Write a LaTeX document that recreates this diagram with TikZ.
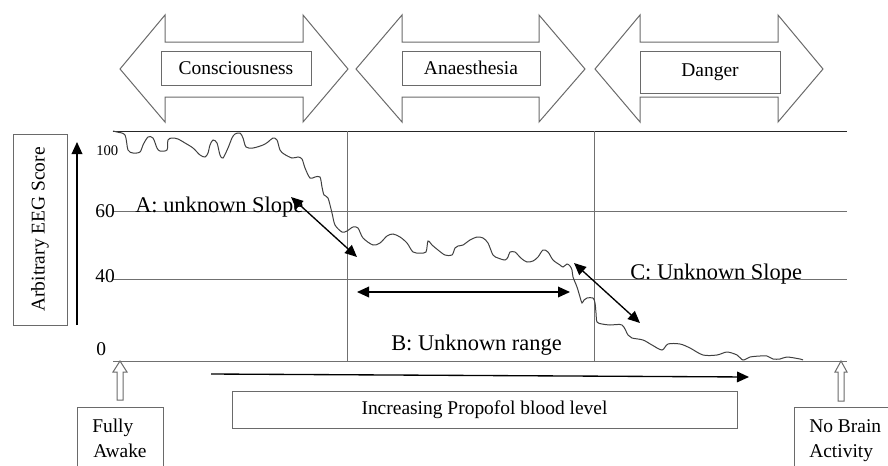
\documentclass[tikz,border=0pt]{standalone}
\usepackage{fontspec}
\setmainfont{Liberation Serif}
\usetikzlibrary{arrows.meta}
\definecolor{gridc}{HTML}{707070}
\definecolor{boxc}{HTML}{6A6A6A}
\definecolor{curvec}{HTML}{404040}
\begin{document}
\begin{tikzpicture}[x=0.75pt,y=-0.75pt,
  basefont/.style={font=\fontsize{14.6pt}{18.75pt}\selectfont},
  bigfont/.style={font=\fontsize{16.8pt}{20pt}\selectfont},
  gridline/.style={draw=gridc, line width=0.75pt},
  topline/.style={draw=black!85, line width=0.75pt},
  blockarrow/.style={draw=boxc, line width=0.75pt, fill=white, line join=miter},
  tbox/.style={draw=boxc, line width=0.75pt, inner sep=0pt, basefont},
  curve/.style={draw=curvec, line width=0.75pt},
  tip/.style={Triangle[length=9pt,width=8pt]},
  dbl/.style={{Triangle[length=9pt,width=8pt]}-{Triangle[length=9pt,width=8pt]}, line width=1pt, black},
  sgl/.style={-{Triangle[length=9pt,width=8pt]}, line width=1pt, black},
  lbl/.style={inner sep=0pt, anchor=base west, basefont},
  biglbl/.style={inner sep=0pt, anchor=base west, bigfont}]
\useasboundingbox (0,0) rectangle (888,465);
\clip (0,0) rectangle (888,465);
% top block arrows
\draw[blockarrow] (120,69) -- (165,15) -- (165,42) -- (303,42) -- (303,15) -- (348,69) -- (303,122) -- (303,97) -- (165,97) -- (165,122) -- cycle;
\draw[blockarrow] (356,69) -- (402,15) -- (402,42) -- (539,42) -- (539,15) -- (585,69) -- (539,122) -- (539,97) -- (402,97) -- (402,122) -- cycle;
\draw[blockarrow] (595,69) -- (640,15) -- (640,42) -- (778,42) -- (778,15) -- (823,69) -- (778,122) -- (778,97) -- (640,97) -- (640,122) -- cycle;
\node[tbox, minimum width=112.5pt, minimum height=25.5pt] (cons) at (236,68) {Consciousness};
\node[tbox, minimum width=103.5pt, minimum height=25.5pt] (anae) at (471,68) {Anaesthesia};
\node[tbox, minimum width=105pt, minimum height=31.5pt] (dang) at (710,72) {Danger};
% grid
\coordinate (gL100) at (113,131); \coordinate (gR100) at (847,131);
\coordinate (gL60) at (113,211); \coordinate (gR60) at (847,211);
\coordinate (gL40) at (113,279); \coordinate (gR40) at (847,279);
\coordinate (gL0) at (113,361); \coordinate (gR0) at (847,361);
\coordinate (v1t) at (347,131); \coordinate (v1b) at (347,361);
\coordinate (v2t) at (594,131); \coordinate (v2b) at (594,361);
\draw[topline] (gL100) -- (gR100);
\draw[gridline] (gL60) -- (gR60);
\draw[gridline] (gL40) -- (gR40);
\draw[gridline] (gL0) -- (gR0);
\draw[gridline] (v1t) -- (v1b);
\draw[gridline] (v2t) -- (v2b);
% tick labels
\node[lbl, font=\fontsize{11pt}{13pt}\selectfont] (t100) at (96,155) {100};
\node[lbl] (t60) at (95,217) {60};
\node[lbl] (t40) at (95,282) {40};
\node[lbl] (t0) at (96,355) {0};
% y axis
\node[tbox, rotate=90, minimum width=143.25pt, minimum height=40.5pt] (ylab) at (40,229.5) {Arbitrary EEG Score};
\coordinate (yb) at (77,325); \coordinate (yt) at (77,142);
\draw[sgl] (yb) -- (yt);
% curve
\draw[curve] plot[smooth, tension=0.5] coordinates {(113,131) (117,132) (125,135) (128,150) (133,153) (140,152) (143,145) (148,137) (153,138) (157,148) (160,151) (167,150) (168,140) (172,138) (178,139) (185,143) (193,148) (200,155) (205,157) (208,153) (210,145) (213,140) (217,143) (220,155) (223,158) (228,148) (232,138) (235,134) (240,133) (243,138) (246,147) (253,148) (263,145) (268,142) (273,138) (277,140) (280,150) (284,154) (292,158) (298,157) (302,159) (305,168) (310,178) (315,177) (320,177) (322,187) (324,195) (328,198) (332,213) (335,225) (342,232) (347,231) (353,227) (358,228) (363,238) (373,245) (380,243) (387,236) (393,234) (400,237) (407,243) (413,252) (420,253) (426,252) (428,241) (432,245) (438,250) (445,255) (452,255) (455,248) (458,246) (463,245) (470,240) (477,237) (483,238) (488,243) (493,255) (498,258) (505,260) (508,257) (510,252) (515,252) (518,255) (522,259) (527,262) (533,261) (538,257) (543,250) (548,252) (553,260) (560,265) (563,267) (567,264) (570,266) (572,270) (573,277) (577,287) (580,297) (582,303) (584,300) (587,298) (593,298) (595,303) (596,313) (597,322) (602,324) (610,325) (622,325) (628,335) (632,338) (643,340) (652,345) (662,350) (668,344) (680,344) (690,348) (703,355) (717,355) (727,352) (737,355) (743,360) (750,357) (760,356) (767,356) (773,359) (780,359) (787,357) (800,359) (803,360)};
% slope / range arrows
\coordinate (a1) at (291,197); \coordinate (a2) at (357,257);
\coordinate (b1) at (357,292); \coordinate (b2) at (570,292);
\coordinate (c1) at (574,263); \coordinate (c2) at (640,323);
\draw[dbl] (a1) -- (a2);
\draw[dbl] (b1) -- (b2);
\draw[dbl] (c1) -- (c2);
\node[biglbl] (alab) at (135,212) {A: unknown Slope};
\node[biglbl] (blab) at (391,350) {B: Unknown range};
\node[biglbl] (clab) at (630,279) {C: Unknown Slope};
% bottom
\coordinate (pb1) at (211,374); \coordinate (pb2) at (749,377);
\draw[sgl] (pb1) -- (pb2);
\node[tbox, minimum width=378.75pt, minimum height=27.75pt] (prop) at (484.5,409.5) {Increasing Propofol blood level};
\draw[blockarrow] (120,361) -- (127,372) -- (123,372) -- (123,400) -- (117,400) -- (117,372) -- (113,372) -- cycle;
\draw[blockarrow] (841,361) -- (847,372) -- (844,372) -- (844,401) -- (838,401) -- (838,372) -- (835,372) -- cycle;
\draw[draw=boxc, line width=0.75pt] (77,470) -- (77,407) -- (163,407) -- (163,470);
\draw[draw=boxc, line width=0.75pt] (794,470) -- (794,407) -- (892,407);
\node[lbl] (fully) at (92,432) {Fully};
\node[lbl] (awake) at (93,457) {Awake};
\node[lbl] (nobrain) at (809,432) {No Brain};
\node[lbl] (activity) at (809,457) {Activity};
\end{tikzpicture}
\end{document}
